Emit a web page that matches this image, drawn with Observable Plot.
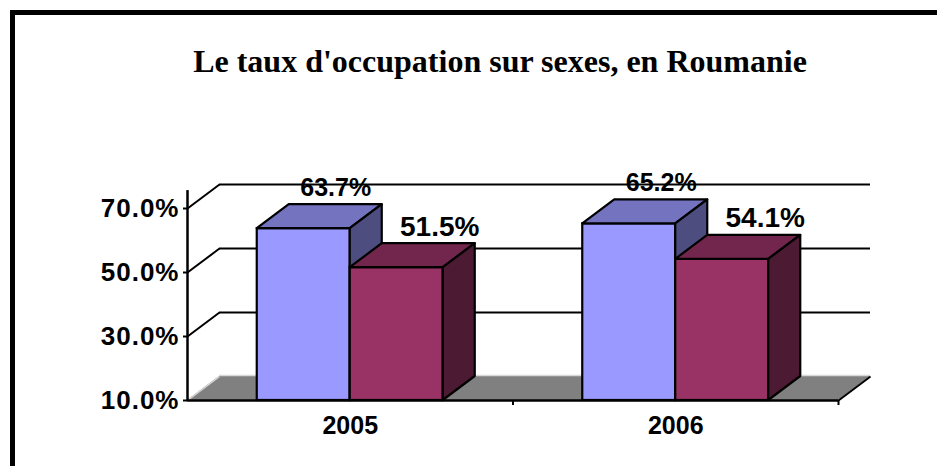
<!DOCTYPE html>
<html>
<head>
<meta charset="utf-8">
<script src="https://cdn.jsdelivr.net/npm/d3@7"></script>
<script src="https://cdn.jsdelivr.net/npm/@observablehq/plot@0.6"></script>
<style>
  html, body { margin: 0; padding: 0; background: #fff; }
  #wrap { position: relative; width: 937px; height: 466px; overflow: hidden; background: #fff; }
  #frame { position: absolute; left: 10px; top: 10px; width: 1000px; height: 600px;
           border-left: 5px solid #000; border-top: 5px solid #000; box-sizing: border-box; pointer-events: none; }
  #title { position: absolute; left: 0; width: 1000px; top: 45px; text-align: center;
           font-family: "Liberation Serif", "Times New Roman", serif; font-weight: bold; font-size: 32px; line-height: 32px; color: #000; }
  #chart { position: absolute; left: 0; top: 0; }
  #chart svg { background: transparent; overflow: visible; }
  #chart [aria-label="y-axis tick label"] text { font-size: 26px; font-weight: bold; letter-spacing: 1px; fill: #000; }
  #chart [aria-label="x-axis tick label"] text { font-size: 25px; font-weight: bold; fill: #000; }
</style>
</head>
<body>
<div id="wrap">
  <div id="chart"></div>
  <div id="title">Le taux d'occupation sur sexes, en Roumanie</div>
  <div id="frame"></div>
</div>
<script>
// ---- data ----
const years = ["2005", "2006"];
const hommes = [63.7, 65.2];   // first series (blue)
const femmes = [51.5, 54.1];   // second series (purple-red)
const yTicks = [10, 30, 50, 70];

// ---- 3D geometry (in data units) ----
const BASE = 10;
const BW = 93 / 325.5;   // bar width as fraction of a category band
const DX = 32 / 325.5;   // depth offset along x
const DY = 7.5;          // depth offset along y (percentage points)

function bars(vals, s) {
  return vals.map((v, i) => ({
    id: s + "-" + i, v,
    x0: i + 0.5 + (s === 0 ? -BW : 0),
    x1: i + 0.5 + (s === 0 ? 0 : BW)
  }));
}
function topFace(bs) {
  return bs.flatMap(b => [
    {id: b.id, y: b.v, x1: b.x0, x2: b.x1},
    {id: b.id, y: b.v + DY, x1: b.x0 + DX, x2: b.x1 + DX}
  ]);
}
function sideFace(bs) {
  return bs.flatMap(b => [
    {id: b.id, x: b.x1, y1: BASE, y2: b.v},
    {id: b.id, x: b.x1 + DX, y1: BASE + DY, y2: b.v + DY}
  ]);
}

const blue = bars(hommes, 0);
const red = bars(femmes, 1);
const colors = {
  blue: {front: "#9999FF", top: "#7373C0", side: "#4D4D80"},
  red: {front: "#993366", top: "#73264D", side: "#4D1A33"}
};

function barMarks(bs, c) {
  return [
    Plot.rect(bs, {x1: "x0", x2: "x1", y1: BASE, y2: "v", fill: c.front, stroke: "#000", strokeWidth: 2.2}),
    Plot.areaX(topFace(bs), {y: "y", x1: "x1", x2: "x2", z: "id", fill: c.top, stroke: "#000", strokeWidth: 2.2}),
    Plot.areaY(sideFace(bs), {x: "x", y1: "y1", y2: "y2", z: "id", fill: c.side, stroke: "#000", strokeWidth: 2.2})
  ];
}

const grid = yTicks.filter(v => v > BASE);

const chart = Plot.plot({
  width: 937,
  height: 466,
  marginLeft: 187,
  marginRight: 99,
  marginTop: 208,
  marginBottom: 66,
  style: {fontFamily: "'Liberation Sans', Arial, sans-serif", background: "transparent", color: "#000"},
  x: {domain: [0, 2]},
  y: {domain: [10, 70]},
  marks: [
    // back wall gridlines and side-wall diagonals
    Plot.ruleY(grid, {y: d => d + DY, x1: DX, x2: 2 + DX, stroke: "#000", strokeWidth: 2}),
    Plot.link(grid, {x1: 0, y1: d => d, x2: DX, y2: d => d + DY, stroke: "#000", strokeWidth: 2}),
    // floor
    Plot.areaX([{y: BASE, x1: 0, x2: 2}, {y: BASE + DY, x1: DX, x2: 2 + DX}], {y: "y", x1: "x1", x2: "x2", fill: "#808080"}),
    Plot.ruleY([BASE + DY], {x1: DX, x2: 2 + DX, stroke: "#d8d8d8", strokeWidth: 1.5, dy: -1}),
    Plot.link([0], {x1: 0, y1: BASE, x2: DX, y2: BASE + DY, stroke: "#d8d8d8", strokeWidth: 1.5}),
    Plot.link([0], {x1: 2, y1: BASE, x2: 2 + DX, y2: BASE + DY, stroke: "#000", strokeWidth: 2}),
    // bars
    ...barMarks(blue, colors.blue),
    ...barMarks(red, colors.red),
    // axes lines
    Plot.ruleY([BASE], {x1: 0, x2: 2, stroke: "#000", strokeWidth: 2.5}),
    Plot.ruleX([0], {y1: BASE, y2: 75.6, stroke: "#000", strokeWidth: 2.5}),
    Plot.axisY({ticks: yTicks, tickFormat: d => d.toFixed(1) + "%", tickSize: 4, tickPadding: 4, strokeWidth: 2, fontSize: 26, fontWeight: "bold"}),
    Plot.axisX({ticks: [1, 2], tickSize: 5, tickFormat: () => "", strokeWidth: 2}),
    Plot.axisX({ticks: [0.5, 1.5], tickSize: 0, tickPadding: 16, tickFormat: d => years[Math.floor(d)], fontSize: 25, fontWeight: "bold"}),
    // value labels
    Plot.text(blue, {x: d => (d.x0 + d.x1) / 2 + DX, y: d => d.v + DY, text: d => d.v.toFixed(1) + "%", dy: -9, lineAnchor: "bottom", fontSize: 25, fontWeight: "bold", fill: "#000"}),
    Plot.text(red, {x: d => (d.x0 + d.x1) / 2 + DX, y: d => d.v + DY, text: d => d.v.toFixed(1) + "%", dx: 11, dy: -8, lineAnchor: "bottom", fontSize: 28, fontWeight: "bold", fill: "#000"})
  ]
});
document.getElementById("chart").appendChild(chart);
</script>
</body>
</html>
